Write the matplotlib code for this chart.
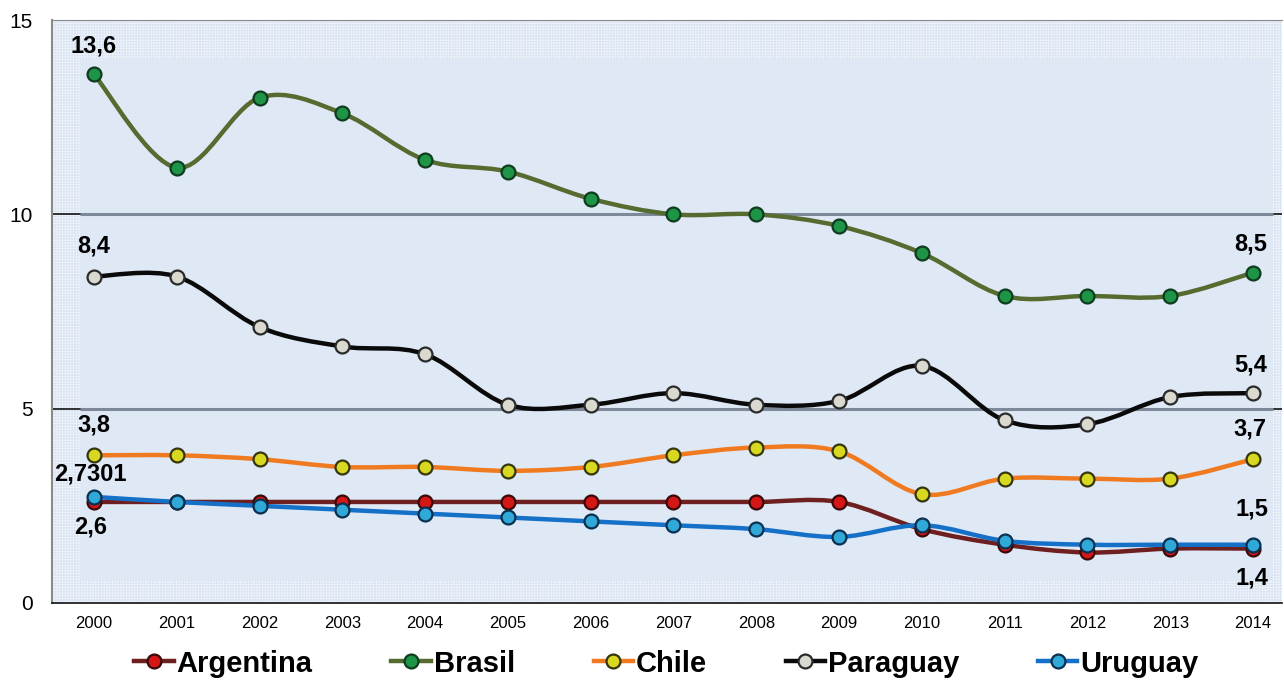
import numpy as np
import matplotlib
matplotlib.use("Agg")
import matplotlib.pyplot as plt
from matplotlib.path import Path
from matplotlib.patches import PathPatch, Rectangle
from matplotlib.lines import Line2D

plt.rcParams['font.family'] = ['Liberation Sans', 'DejaVu Sans']
plt.rcParams['hatch.linewidth'] = 0.6

years = [str(y) for y in range(2000, 2015)]
argentina = [2.6, 2.6, 2.6, 2.6, 2.6, 2.6, 2.6, 2.6, 2.6, 2.6, 1.9, 1.5, 1.3, 1.4, 1.4]
brasil = [13.6, 11.2, 13.0, 12.6, 11.4, 11.1, 10.4, 10.0, 10.0, 9.7, 9.0, 7.9, 7.9, 7.9, 8.5]
chile = [3.8, 3.8, 3.7, 3.5, 3.5, 3.4, 3.5, 3.8, 4.0, 3.9, 2.8, 3.2, 3.2, 3.2, 3.7]
paraguay = [8.4, 8.4, 7.1, 6.6, 6.4, 5.1, 5.1, 5.4, 5.1, 5.2, 6.1, 4.7, 4.6, 5.3, 5.4]
uruguay = [2.7301, 2.6, 2.5, 2.4, 2.3, 2.2, 2.1, 2.0, 1.9, 1.7, 2.0, 1.6, 1.5, 1.5, 1.5]

names = ['Argentina', 'Brasil', 'Chile', 'Paraguay', 'Uruguay']
series = [argentina, brasil, chile, paraguay, uruguay]
line_colors = ['#6e1f1f', '#556b2f', '#f07a20', '#0a0a0a', '#1570c8']
fill_colors = ['#d41616', '#1e9447', '#d8d820', '#d9d9d0', '#30a8d8']
edge_colors = ['#3a0808', '#0f3b1e', '#35350c', '#2a2a2a', '#0a3050']

# labels at first / last point: (series index, point index, text, dx, dy in px)
labels = [
    (1, 0, '13,6', 0, 28), (3, 0, '8,4', 0, 31), (2, 0, '3,8', 0, 30),
    (4, 0, '2,7301', -4, 23), (0, 0, '2,6', -3, -25),
    (1, 14, '8,5', -2, 29), (3, 14, '5,4', -2, 28), (2, 14, '3,7', -3, 30),
    (4, 14, '1,5', -1, 36), (0, 14, '1,4', -1, -29),
]


def smooth_path(xs, ys):
    n = len(xs)
    verts = [(xs[0], ys[0])]
    codes = [Path.MOVETO]
    for i in range(n - 1):
        a = i - 1 if i > 0 else i
        d = i + 2 if i + 2 < n else i + 1
        c1 = (xs[i] + (xs[i + 1] - xs[a]) / 6, ys[i] + (ys[i + 1] - ys[a]) / 6)
        c2 = (xs[i + 1] - (xs[d] - xs[i]) / 6, ys[i + 1] - (ys[d] - ys[i]) / 6)
        verts += [c1, c2, (xs[i + 1], ys[i + 1])]
        codes += [Path.CURVE4] * 3
    return Path(verts, codes)


fig = plt.figure(figsize=(12.84, 6.8), dpi=100)
ax = fig.add_axes([52 / 1284, 1 - 603 / 680, (1282 - 52) / 1284, (603 - 20) / 680])

x = np.arange(len(years))
ax.set_xlim(-0.507, 14.35)
ax.set_ylim(0, 15)

# textured background and lighter inner area
ax.set_facecolor('#d6e1f1')
ax.add_patch(Rectangle((0, 0), 1, 1, transform=ax.transAxes, facecolor='none',
                       edgecolor='#eef3fa', hatch='++++++', lw=0, zorder=0))
ax.add_patch(Rectangle((-0.17, 0.6), 14.41, 13.4, facecolor='#dfe8f5',
                       edgecolor='none', zorder=0.5))

for gy in [5, 10]:
    ax.axhline(gy, color='#111111', lw=1.2, zorder=1)
    ax.plot([-0.17, 14.24], [gy, gy], color='#7d8898', lw=2.2, zorder=1.1,
            solid_capstyle='butt')

for s, lc, fc, ec in zip(series, line_colors, fill_colors, edge_colors):
    ax.add_patch(PathPatch(smooth_path(x, s), facecolor='none', edgecolor=lc,
                           lw=3.2, zorder=3, capstyle='round'))
    ax.plot(x, s, 'o', ms=10, mfc=fc, mec=ec, mew=1.6, zorder=4)

for si, pi, txt, dx, dy in labels:
    ax.annotate(txt, (x[pi], series[si][pi]), xytext=(dx * 0.72, dy * 0.72),
                textcoords='offset points', ha='center', va='center',
                fontsize=17, fontweight='bold', color='black', zorder=6)

ax.set_xticks(x)
ax.set_xticklabels(years)
ax.set_yticks([0, 5, 10, 15])
ax.tick_params(axis='x', length=0, pad=9, labelsize=12)
ax.tick_params(axis='y', length=0, pad=14, labelsize=15)

ax.spines['right'].set_visible(False)
ax.spines['top'].set_color('#8a8a8a')
ax.spines['left'].set_color('#8a8a8a')
ax.spines['left'].set_linewidth(1.5)
ax.spines['bottom'].set_color('#111111')
ax.spines['bottom'].set_linewidth(1.2)

handles = [Line2D([], [], color=lc, lw=3.2, marker='o', ms=10, mfc=fc, mec=ec, mew=1.6)
           for lc, fc, ec in zip(line_colors, fill_colors, edge_colors)]
fig.legend(handles, names, loc='center', bbox_to_anchor=(0.519, 0.024), ncol=5,
           frameon=False, prop={'size': 21, 'weight': 'bold'}, handlelength=1.35,
           handletextpad=0.1, columnspacing=2.7, borderaxespad=0)

fig.savefig('out.png', dpi=100)
